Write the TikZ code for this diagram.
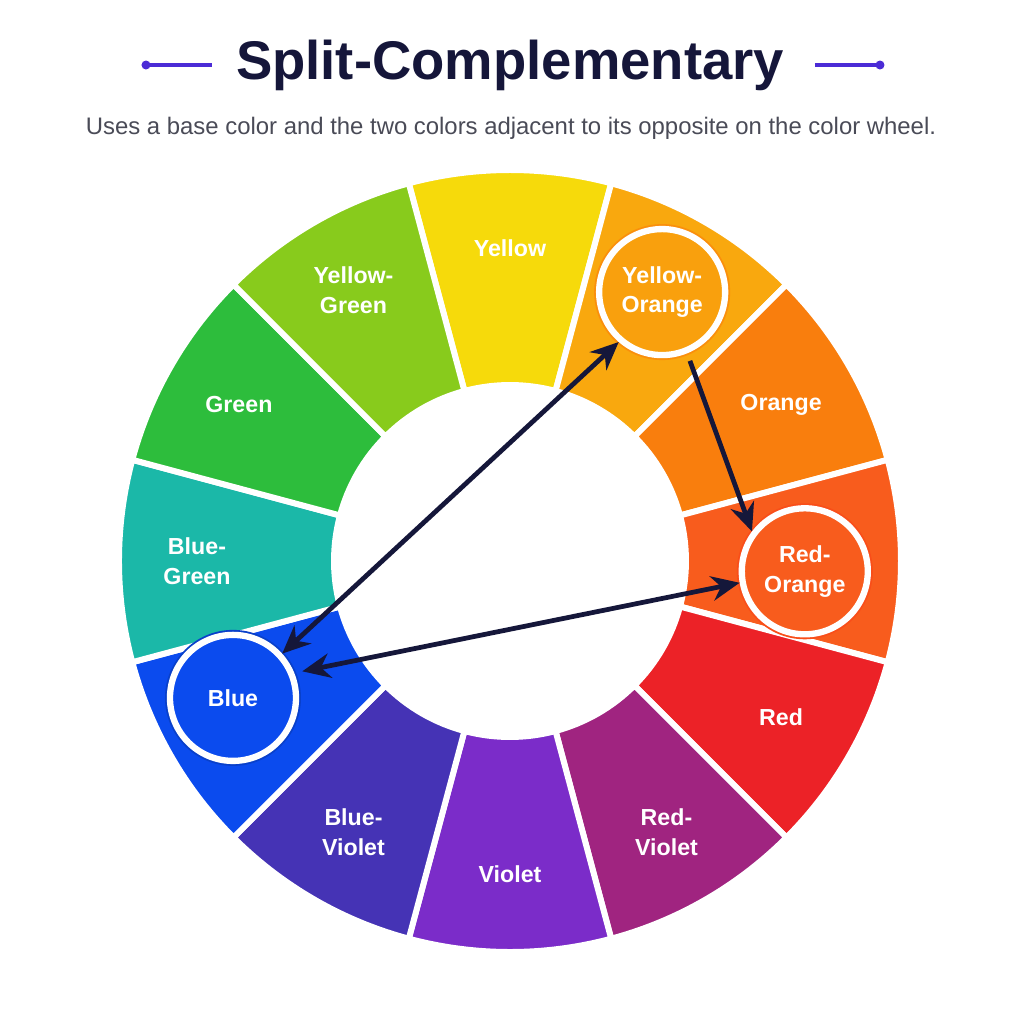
\documentclass[tikz,border=0pt]{standalone}
\usepackage{fontspec}
\setmainfont{Liberation Sans}
\usepackage{tikz}
\usetikzlibrary{arrows.meta}
\definecolor{titleink}{HTML}{15163A}
\definecolor{subink}{HTML}{4A4B57}
\definecolor{accent}{HTML}{4B2BD6}
\definecolor{arrowink}{HTML}{15173A}
\definecolor{wyellow}{HTML}{F6DA0B}
\definecolor{wyelloworange}{HTML}{F9A80E}
\definecolor{worange}{HTML}{F97E0D}
\definecolor{wredorange}{HTML}{F85C1D}
\definecolor{wred}{HTML}{EC2227}
\definecolor{wredviolet}{HTML}{A02480}
\definecolor{wviolet}{HTML}{7B2CC9}
\definecolor{wblueviolet}{HTML}{4533B5}
\definecolor{wblue}{HTML}{0B4BEE}
\definecolor{wbluegreen}{HTML}{1BB8A8}
\definecolor{wgreen}{HTML}{2DBD3C}
\definecolor{wyellowgreen}{HTML}{88CB1C}
\newcommand{\innerrad}{1.76}
\newcommand{\outerrad}{3.91}
\newcommand{\labelrad}{3.13}
\newcommand{\pickrad}{0.63}

\begin{document}
\begin{tikzpicture}[
    segment/.style={draw=white, line width=1.7pt, line join=round},
    seglabel/.style={text=white, align=center,
      font=\bfseries\fontsize{6.6}{8.5}\selectfont},
    pick/.style={circle, draw=white, line width=1.8pt, inner sep=0pt,
      minimum size=2*\pickrad cm, text=white, align=center,
      font=\bfseries\fontsize{6.6}{8.5}\selectfont},
    link/.style={draw=arrowink, line width=1.35pt,
      arrows={Stealth[length=8pt,width=7pt]-Stealth[length=8pt,width=7pt]}},
    onelink/.style={draw=arrowink, line width=1.35pt,
      arrows={-Stealth[length=8pt,width=7pt]}}
  ]
    \useasboundingbox[fill=white] (-5.10,-4.63) rectangle (5.14,5.61);
    % heading
    \node[font=\bfseries\fontsize{15.5}{18}\selectfont, text=titleink]
      (title) at (0,4.96) {Split-Complementary};
    \node[font=\fontsize{6.8}{8}\selectfont, text=subink]
      (subtitle) at (0.01,4.33) {Uses a base color and the two colors adjacent to its opposite on the color wheel.};
    \coordinate (lstart) at (-3.64,4.96);
    \coordinate (lend) at (-2.98,4.96);
    \coordinate (rstart) at (3.05,4.96);
    \coordinate (rend) at (3.70,4.96);
    \draw[accent, line width=0.9pt] (lstart) -- (lend);
    \draw[accent, line width=0.9pt] (rstart) -- (rend);
    \fill[accent] (lstart) circle (0.045);
    \fill[accent] (rend) circle (0.045);
    % wheel segments
    \foreach \ang/\col/\txt in {90/wyellow/Yellow, 60/wyelloworange/,
      30/worange/Orange, 0/wredorange/, -30/wred/Red,
      -60/wredviolet/{Red-\\Violet}, -90/wviolet/Violet,
      -120/wblueviolet/{Blue-\\Violet}, -150/wblue/,
      180/wbluegreen/{Blue-\\Green}, 150/wgreen/Green,
      120/wyellowgreen/{Yellow-\\Green}}
    {
      \path[segment, fill=\col] (\ang-15:\innerrad) -- (\ang-15:\outerrad)
        arc[start angle=\ang-15, end angle=\ang+15, radius=\outerrad]
        -- (\ang+15:\innerrad)
        arc[start angle=\ang+15, end angle=\ang-15, radius=\innerrad] -- cycle;
      \node[seglabel] (lbl\ang) at (\ang:\labelrad) {\txt};
    }
    % picked colors
    \fill[wyelloworange!85!red] (60.5:3.09) circle (\pickrad+0.05);
    \fill[wredorange!85!red] (-2:2.95) circle (\pickrad+0.05);
    \fill[wblue!85!black] (-153.7:3.09) circle (\pickrad+0.05);
    \node[pick, fill=wyelloworange!95!red] (yo) at (60.5:3.09) {Yellow-\\Orange};
    \node[pick, fill=wredorange] (ro) at (-2:2.95) {Red-\\Orange};
    \node[pick, fill=wblue] (bl) at (-153.7:3.09) {Blue};
    % arrows
    \draw[link] (bl.42) -- (yo.229);
    \draw[link] ([shift={(21:0.08)}]bl.21) -- (ro.190);
    \draw[onelink] ([shift={(-68:0.08)}]yo.-68) -- (ro.143);
  \end{tikzpicture}
\end{document}
